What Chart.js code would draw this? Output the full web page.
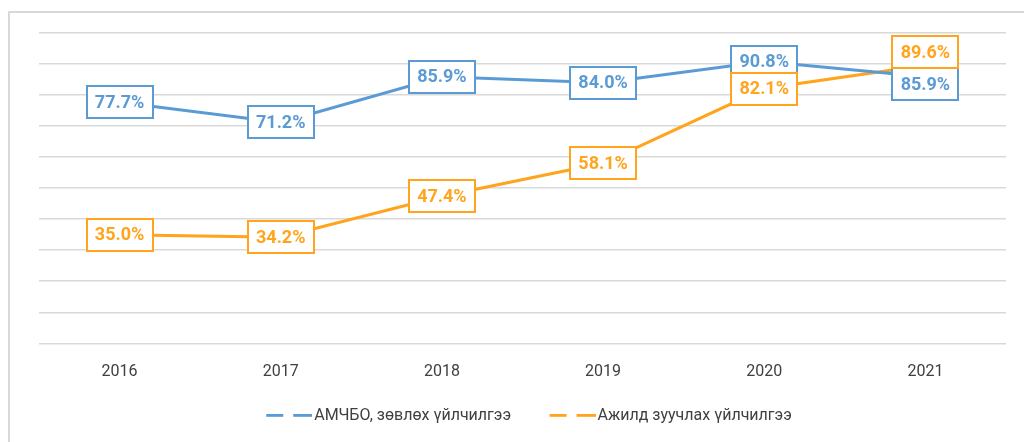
<!DOCTYPE html>
<html>
<head>
<meta charset="utf-8">
<script src="https://cdn.jsdelivr.net/npm/chart.js@4"></script>
<style>
  html, body { margin: 0; padding: 0; background: #fff; overflow: hidden; }
  #frame { position: absolute; left: 8px; top: 11px; width: 1100px; height: 500px; border: 2px solid #d9d9d9; }
  #wrap { position: absolute; left: 0; top: 0; width: 1024px; height: 442px; }
</style>
</head>
<body>
<div id="frame"></div>
<div id="wrap"><canvas id="lineChart" width="1024" height="442"></canvas></div>
<script>
// chart values
var years = ['2016', '2017', '2018', '2019', '2020', '2021'];
var consultingValues = [77.7, 71.2, 85.9, 84.0, 90.8, 85.9];
var placementValues = [35.0, 34.2, 47.4, 58.1, 82.1, 89.6];
var seriesNames = ['АМЧБО, зөвлөх үйлчилгээ', 'Ажилд зуучлах үйлчилгээ'];
var yMin = 0, yMax = 100, yStep = 10;

var BLUE = '#5b9bd5';
var ORANGE = '#ffa41c';

// legend icon: two short dashes, shifted right so they sit close to the text
function dashIcon(color) {
    var c = document.createElement('canvas');
    c.width = 65; c.height = 4;
    var g = c.getContext('2d');
    g.fillStyle = color;
    g.fillRect(19, 0, 17, 3);
    g.fillRect(46, 0, 19, 3);
    return c;
}

// boxed value labels like the excel data labels
var boxLabels = {
    id: 'boxLabels',
    afterDatasetsDraw: function (chart) {
        var ctx = chart.ctx;
        var boxH = 32;
        ctx.save();
        ctx.font = 'bold 18px Roboto, "Liberation Sans", sans-serif';
        ctx.textAlign = 'center';
        ctx.textBaseline = 'middle';
        var n = chart.data.labels.length;
        for (var i = 0; i < n; i++) {
            var items = chart.data.datasets.map(function (ds, d) {
                var pt = chart.getDatasetMeta(d).data[i];
                return { x: pt.x, y: pt.y, text: ds.data[i].toFixed(1) + '%', color: ds.borderColor };
            });
            // push the two labels apart when they would sit on top of each other
            if (items.length === 2 && Math.abs(items[0].y - items[1].y) < boxH / 2) {
                var mid = (items[0].y + items[1].y) / 2 - 3;
                var up = items[0].y < items[1].y ? 0 : 1;
                items[up].y = mid - boxH / 2;
                items[1 - up].y = mid + boxH / 2;
            }
            items.forEach(function (it) {
                var w = Math.round(ctx.measureText(it.text).width) + 16;
                var x0 = Math.round(it.x - w / 2), y0 = Math.round(it.y - boxH / 2);
                ctx.fillStyle = '#fff';
                ctx.fillRect(x0, y0, w, boxH);
                ctx.strokeStyle = it.color;
                ctx.lineWidth = 2;
                ctx.strokeRect(x0, y0, w, boxH);
                ctx.fillStyle = it.color;
                ctx.fillText(it.text, it.x, it.y + 1);
            });
        }
        ctx.restore();
    }
};

var ctx = document.getElementById('lineChart');
var lineChart = new Chart(ctx, {
    type: 'line',
    data: {
        labels: years,
        datasets: [{
            label: seriesNames[0],
            data: consultingValues,
            borderColor: BLUE,
            backgroundColor: BLUE,
            borderWidth: 3,
            pointRadius: 0,
            pointStyle: dashIcon(BLUE),
            tension: 0
        }, {
            label: seriesNames[1],
            data: placementValues,
            borderColor: ORANGE,
            backgroundColor: ORANGE,
            borderWidth: 3,
            pointRadius: 0,
            pointStyle: dashIcon(ORANGE),
            tension: 0
        }]
    },
    options: {
        responsive: false,
        animation: false,
        layout: {
            padding: { left: 39, right: 18, top: 33, bottom: 8.2 }
        },
        scales: {
            x: {
                offset: true,
                grid: { display: false, drawTicks: false },
                border: { display: false },
                ticks: {
                    padding: 19,
                    color: '#404040',
                    font: { family: 'Roboto', size: 16 }
                },
                afterFit: function (scale) { scale.height = 39; }
            },
            y: {
                min: yMin,
                max: yMax,
                grid: { color: '#d9d9d9', lineWidth: 1.5, drawTicks: false },
                border: { display: false },
                ticks: { display: false, stepSize: yStep }
            }
        },
        plugins: {
            legend: {
                position: 'bottom',
                labels: {
                    usePointStyle: true,
                    pointStyleWidth: 53,
                    padding: 25.5,
                    color: '#404040',
                    font: { family: 'Roboto', size: 16 }
                }
            },
            tooltip: { enabled: false }
        }
    },
    plugins: [boxLabels]
});
</script>
</body>
</html>
